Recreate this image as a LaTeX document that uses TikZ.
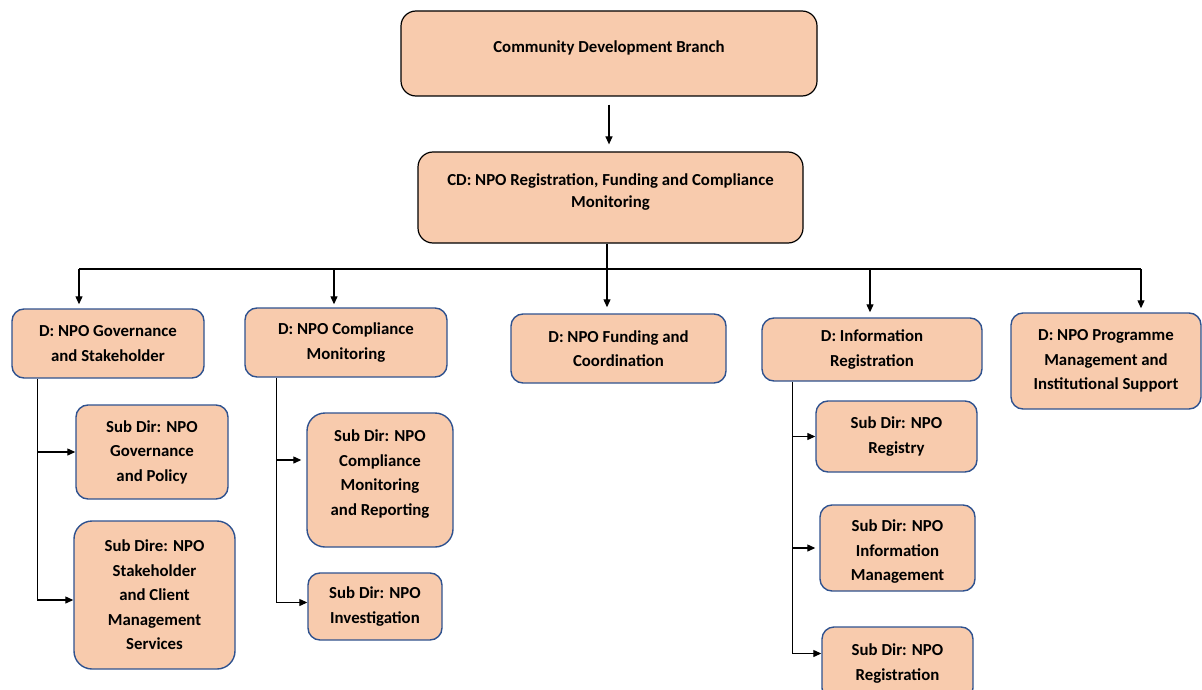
\documentclass[tikz,border=0pt]{standalone}
\usepackage{fontspec}
\setmainfont{Carlito}
\usetikzlibrary{arrows.meta}

\definecolor{peach}{HTML}{F8CBAD}
\definecolor{boxblue}{HTML}{2F528F}

% extra room under / over a text, to move it off the box centre
\def\padbelow#1{\rule[-#1]{0pt}{0pt}}
\def\padabove#1{\rule{0pt}{#1}}

\begin{document}
\begin{tikzpicture}[x=1pt,y=-1pt,
  box/.style={draw=boxblue, fill=peach, rounded corners=12pt, line width=1.4pt,
    align=center, inner sep=2pt, font=\fontsize{16.8}{24.5}\selectfont\bfseries},
  headbox/.style={box, draw=black, line width=1.2pt, rounded corners=15pt},
  boxsize/.style 2 args={minimum width=#1pt, minimum height=#2pt},
  arr/.style={-{Triangle[length=8pt,width=7pt]}, line width=1.2pt},
  link/.style={line width=1.2pt}]
\useasboundingbox (0,0) rectangle (1202,690);

% Branch and chief directorate
\node[headbox, boxsize={416}{85}] (branch) at (609,53.5) {Community Development Branch\padbelow{13pt}};
\node[headbox, boxsize={385}{91}, font=\fontsize{16.8}{22}\selectfont\bfseries] (cd) at (610.5,197.5)
  {CD: NPO Registration, Funding and Compliance\\Monitoring\padbelow{13pt}};

% Directorates
\node[box, boxsize={192}{69}] (gov) at (108,343.5) {D: NPO Governance\\and Stakeholder};
\node[box, boxsize={202}{69}] (comp) at (346,342.5) {D: NPO Compliance\\Monitoring};
\node[box, boxsize={215}{69}] (fund) at (618.5,348.5) {D: NPO Funding and\\Coordination};
\node[box, boxsize={220}{63}] (info) at (872,349.5) {D: Information\\Registration};
\node[box, boxsize={190}{96}] (prog) at (1106,361) {D: NPO Programme\\Management and\\Institutional Support};

% Sub directorates
\node[box, boxsize={152}{94}] (govpol) at (152,452) {Sub Dir: NPO\\Governance\\and Policy};
\node[box, boxsize={161}{148}, rounded corners=18pt] (govcl) at (154.5,595) {Sub Dire: NPO\\Stakeholder\\and Client\\Management\\Services};
\node[box, boxsize={146}{134}, rounded corners=18pt] (comprep) at (380,480) {Sub Dir: NPO\\Compliance\\Monitoring\\and Reporting\padbelow{14.5pt}};
\node[box, boxsize={134}{67}] (compinv) at (375,606.5) {Sub Dir: NPO\\Investigation};
\node[box, boxsize={161}{71}] (inforeg) at (896.5,436.5) {Sub Dir: NPO\\Registry};
\node[box, boxsize={155}{86}] (infoman) at (897.5,548) {\padabove{19.5pt}Sub Dir: NPO\\Information\\Management};
\node[box, boxsize={151}{73}] (infonpo) at (897.5,663.5) {Sub Dir: NPO\\Registration};

% Branch down to chief directorate
\draw[arr, shorten <=8pt, shorten >=7pt] (branch.south) -- (branch.south |- cd.north);

% Bus to the directorates
\coordinate (b1) at (79,269);
\coordinate (b2) at (334,269);
\coordinate (b3) at (607,269);
\coordinate (b4) at (870,269);
\coordinate (b5) at (1141,269);
\draw[link] (cd.south -| b3) -- (b3);
\draw[link] (b1) -- (b5);
\draw[arr, shorten >=4pt] (b1) -- (b1 |- gov.north);
\draw[arr, shorten >=3pt] (b2) -- (b2 |- comp.north);
\draw[arr, shorten >=6pt] (b3) -- (b3 |- fund.north);
\draw[arr, shorten >=5pt] (b4) -- (b4 |- info.north);
\draw[arr, shorten >=4pt] (b5) -- (b5 |- prog.north);

% Governance and Stakeholder
\coordinate (g0) at ([xshift=26pt]gov.south west);
\coordinate (gc) at ([yshift=-5pt]govcl.west);
\draw[arr] (g0) |- (gc);
\draw[arr] (g0 |- govpol.west) -- (govpol.west);

% Compliance Monitoring
\coordinate (c0) at ([xshift=32pt]comp.south west);
\coordinate (cr) at ([yshift=20pt]comprep.west);
\coordinate (ci) at ([yshift=4pt]compinv.west);
\draw[arr] (c0) |- (ci);
\draw[arr, shorten >=5pt] (c0 |- cr) -- (cr);

% Information Registration
\coordinate (i0) at ([xshift=31pt]info.south west);
\coordinate (ir) at ([yshift=10pt]infonpo.west);
\draw[arr] (i0) |- (ir);
\draw[arr] (i0 |- inforeg.west) -- (inforeg.west);
\draw[arr, shorten >=4pt] (i0 |- infoman.west) -- (infoman.west);
\end{tikzpicture}
\end{document}
